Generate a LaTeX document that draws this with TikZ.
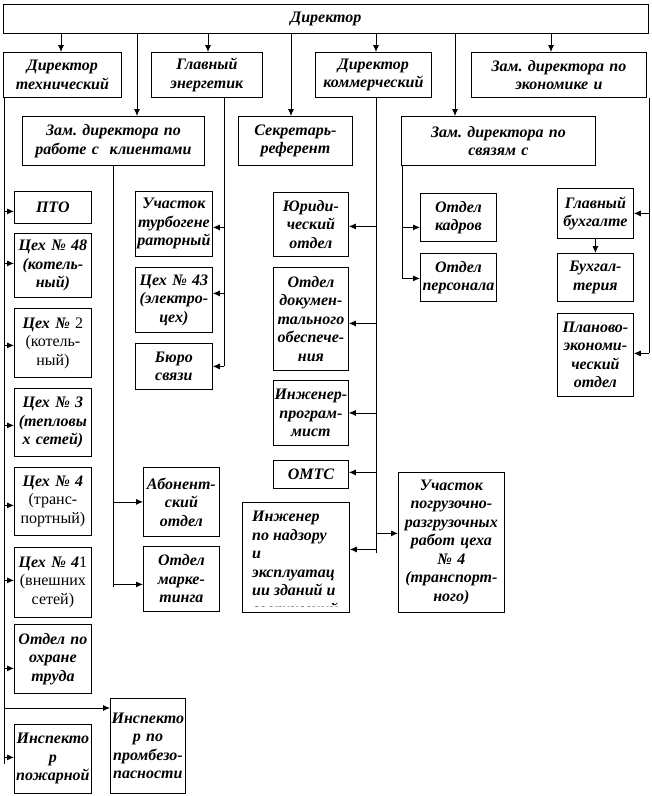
\documentclass[tikz,border=0pt]{standalone}
\usepackage{fontspec}
\setmainfont{Liberation Serif}
\usetikzlibrary{arrows.meta}
\frenchspacing
\newcommand\rg[1]{{\mdseries\upshape #1}}
\newcommand\mybox[7][]{\node[box,anchor=north west,minimum width={(#5-#3)*1pt},minimum height={(#6-#4)*1pt},text width={(#5-#3-2)*1pt},#1] (#2) at (#3,#4) {#7};}
\begin{document}
\begin{tikzpicture}[x=1pt,y=-1pt,
  box/.style={draw,line width=0.8pt,inner xsep=1pt,inner ysep=0pt,align=center,font={\fontsize{16}{18.5}\selectfont\bfseries\itshape}},
  txt/.style={inner sep=0pt,font={\fontsize{16}{18.5}\selectfont\bfseries\itshape}},
  ln/.style={line width=0.8pt},
  arr/.style={line width=0.8pt,-{Latex[length=7pt,width=6pt]}}]
\useasboundingbox (0,0) rectangle (652,796);
% top levels
\mybox{dir}{3}{4}{648}{33}{Директор}
\mybox{dtech}{3}{52}{121}{97}{Директор\\технический}
\mybox{energ}{151}{52}{262}{97}{Главный\\энергетик}
\mybox{komm}{315}{52}{431}{97}{Директор\\коммерческий}
\mybox{econ}{471}{52}{646}{97}{Зам. директора по\\экономике и}
\mybox{klient}{22}{116}{204}{165}{Зам. директора по\\работе с\ \ клиентами}
\mybox{sekr}{238}{116}{352}{165}{Секретарь-\\референт}
\mybox{svyaz}{401}{116}{595}{165}{Зам. директора по\\связям с}
% left column
\mybox{pto}{14}{191}{91}{223}{ПТО}
\mybox{c48}{14}{233}{91}{297}{Цех № 48\\(котель-\\ный)}
\mybox{c2}{14}{308}{91}{377}{Цех № \rg{2}\\\rg{(котель-}\\\rg{ный)}}
\mybox{c3}{14}{388}{91}{456}{Цех № 3\\(тепловы\\х сетей)}
\mybox{c4}{14}{467}{91}{535}{Цех № 4\\\rg{(транс-}\\\rg{портный)}}
\mybox{c41}{14}{547}{91}{617}{Цех № 4\rg{1}\\\rg{(внешних}\\\rg{сетей)}}
\mybox{ohr}{14}{624}{91}{693}{Отдел по\\охране\\труда}
\mybox{pozh}{14}{724}{91}{793}{Инспекто\\р\\пожарной}
\mybox{prom}{110}{698}{185}{793}{Инспекто\\р по\\промбезо-\\пасности}
% energetik column
\mybox{turbo}{135}{191}{212}{256}{Участок\\турбогене\\раторный}
\mybox{c43}{135}{267}{212}{332}{Цех № 43\\(электро-\\цех)}
\mybox{byuro}{135}{343}{212}{389}{Бюро\\связи}
% clients column
\mybox{abon}{143}{467}{219}{536}{Абонент-\\ский\\отдел}
\mybox{mark}{143}{546}{219}{611}{Отдел\\марке-\\тинга}
% commercial column
\mybox{yur}{273}{192}{348}{256}{Юриди-\\ческий\\отдел}
\mybox{doc}{273}{267}{348}{370}{Отдел\\докумен-\\тального\\обеспече-\\ния}
\mybox{prog}{273}{380}{348}{445}{Инженер-\\програм-\\мист}
\mybox{omts}{273}{460}{348}{488}{ОМТС}
\mybox{nadz}{242}{502}{349}{612}{}
\begin{scope}
\clip ([xshift=1pt,yshift=-1pt]nadz.north west) rectangle ([xshift=-1pt,yshift=6pt]nadz.south east);
\node[txt,anchor=north west,align=left] (nadzt) at ([xshift=10pt,yshift=-9pt]nadz.north west) {Инженер\\по надзору\\и\\эксплуатац\\ии зданий и\\сооружений};
\end{scope}
\mybox{pogr}{398}{472}{504}{612}{Участок\\погрузочно-\\разгрузочных\\работ цеха\\№ 4\\(транспорт-\\ного)}
% svyaz column
\mybox{kadr}{420}{193}{496}{241}{Отдел\\кадров}
\mybox{pers}{420}{253}{496}{301}{Отдел\\персонала}
% economics column
\mybox{glbuh}{557}{188}{633}{238}{Главный\\бухгалте}
\mybox{buh}{557}{253}{633}{301}{Бухгал-\\терия}
\mybox{plan}{557}{313}{633}{396}{Планово-\\экономи-\\ческий\\отдел}
% trunk x positions
\coordinate (a1) at (61,0);
\coordinate (a2) at (137,0);
\coordinate (a3) at (208,0);
\coordinate (a4) at (291,0);
\coordinate (a5) at (376,0);
\coordinate (a6) at (455,0);
\coordinate (a7) at (551,0);
\coordinate (sp) at (4,0);
\coordinate (eL) at (224,0);
\coordinate (kL) at (113,0);
\coordinate (cL) at (376,0);
\coordinate (vL) at (402,0);
\coordinate (rL) at (649,0);
% director arrows
\draw[arr] (dir.south -| a1) -- (dtech.north -| a1);
\draw[arr] (dir.south -| a2) -- (klient.north -| a2);
\draw[arr] (dir.south -| a3) -- (energ.north -| a3);
\draw[arr] (dir.south -| a4) -- (sekr.north -| a4);
\draw[arr] (dir.south -| a5) -- (komm.north -| a5);
\draw[arr] (dir.south -| a6) -- (svyaz.north -| a6);
\draw[arr] (dir.south -| a7) -- (econ.north -| a7);
% technical spine
\draw[ln] (dtech.south -| sp) -- ([yshift=30pt]pozh.south -| sp);
\draw[arr] ([yshift=-4pt]pto.west -| sp) -- ([yshift=-4pt]pto.west);
\draw[arr] ([yshift=2pt]c48.west -| sp) -- ([yshift=2pt]c48.west);
\draw[arr] ([yshift=-2.5pt]c2.west -| sp) -- ([yshift=-2.5pt]c2.west);
\draw[arr] ([yshift=-3pt]c3.west -| sp) -- ([yshift=-3pt]c3.west);
\draw[arr] ([yshift=-4pt]c4.west -| sp) -- ([yshift=-4pt]c4.west);
\draw[arr] ([yshift=2pt]c41.west -| sp) -- ([yshift=2pt]c41.west);
\draw[arr] ([yshift=-9.5pt]ohr.west -| sp) -- ([yshift=-9.5pt]ohr.west);
\draw[arr] ([yshift=1.5pt]pozh.west -| sp) -- ([yshift=1.5pt]pozh.west);
\draw[arr] ([yshift=-10pt]prom.north west -| sp) -- ([yshift=-10pt]prom.north west);
% energetik line
\draw[ln] (energ.south -| eL) -- (byuro.east -| eL);
\draw[arr] ([yshift=-3.5pt]turbo.east -| eL) -- ([yshift=-3.5pt]turbo.east);
\draw[arr] ([yshift=6.5pt]c43.east -| eL) -- ([yshift=6.5pt]c43.east);
\draw[arr] (byuro.east -| eL) -- (byuro.east);
% clients line
\draw[ln] (klient.south -| kL) -- ([yshift=-8.5pt]mark.west -| kL);
\draw[arr] (abon.west -| kL) -- (abon.west);
\draw[arr] ([yshift=-5.5pt]mark.west -| kL) -- ([yshift=-5.5pt]mark.west);
% commercial line
\draw[ln] (komm.south -| cL) -- ([yshift=4pt]nadz.east -| cL);
\draw[arr] ([yshift=-2pt]yur.east -| cL) -- ([yshift=-2pt]yur.east);
\draw[arr] ([yshift=-4.5pt]doc.east -| cL) -- ([yshift=-4.5pt]doc.east);
\draw[arr] (prog.east -| cL) -- (prog.east);
\draw[arr] ([yshift=2pt]omts.east -| cL) -- ([yshift=2pt]omts.east);
\draw[arr] ([yshift=8pt]nadz.east -| cL) -- ([yshift=8pt]nadz.east);
\draw[arr] ([yshift=9pt]pogr.west -| cL) -- ([yshift=9pt]pogr.west);
% svyaz line
\draw[ln] (svyaz.south -| vL) -- ([yshift=-1pt]pers.west -| vL);
\draw[arr] ([yshift=-10pt]kadr.west -| vL) -- ([yshift=-10pt]kadr.west);
\draw[arr] ([yshift=-1pt]pers.west -| vL) -- ([yshift=-1pt]pers.west);
% economics line
\draw[ln] (econ.south -| rL) -- ([yshift=1.5pt]plan.east -| rL);
\draw[arr] (glbuh.east -| rL) -- (glbuh.east);
\draw[arr] ([yshift=1.5pt]plan.east -| rL) -- ([yshift=1.5pt]plan.east);
\draw[arr] (glbuh.south) -- (buh.north);
\end{tikzpicture}
\end{document}
